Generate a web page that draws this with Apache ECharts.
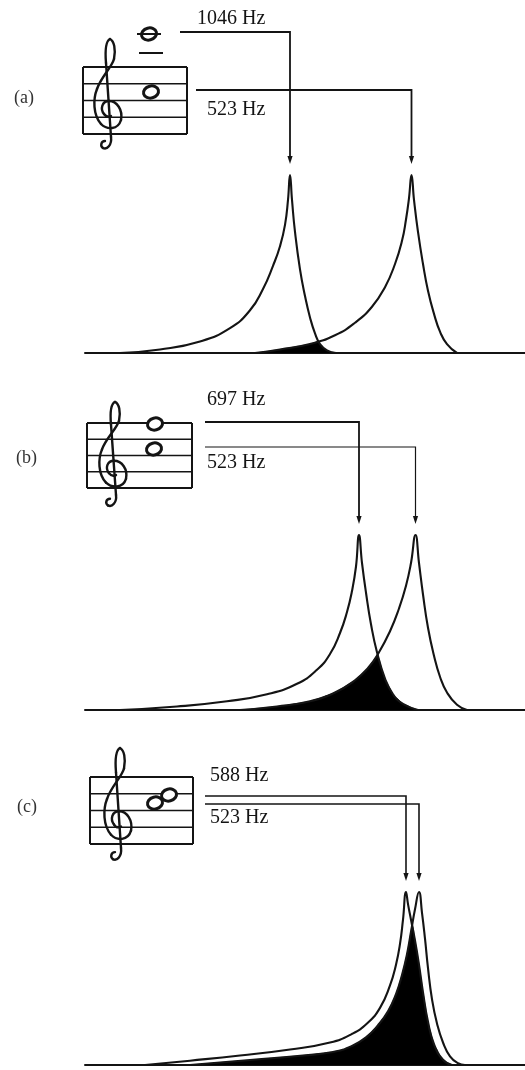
<!DOCTYPE html>
<html>
<head>
<meta charset="utf-8">
<script src="https://cdn.jsdelivr.net/npm/echarts@6/dist/echarts.min.js"></script>
<style>
  html, body { margin: 0; padding: 0; background: #ffffff; }
  #chart { width: 525px; height: 1070px; }
</style>
</head>
<body>
<div id="chart"></div>
<script>
// Resonance curves along the membrane for three pairs of tones.
// Position is in arbitrary units along the x axis, response is relative (peak = 1).

const panelLabels = ['(a)', '(b)', '(c)'];
const toneLabels = [
  ['1046 Hz', '523 Hz'],
  ['697 Hz', '523 Hz'],
  ['588 Hz', '523 Hz']
];

// (a) 1046 Hz and 523 Hz
const posA1046 = [7, 15, 23, 29, 33, 35.6, 37.6, 39, 40, 40.6, 41, 41.4, 42, 43, 44, 45, 46, 47, 48.4, 50.2];
const ampA1046 = [0, 0.02, 0.065, 0.14, 0.24, 0.36, 0.49, 0.6, 0.72, 0.86, 1, 0.86, 0.68, 0.47, 0.32, 0.2, 0.11, 0.05, 0.015, 0];
const posA523 = [34, 39, 45, 50, 54, 57.4, 60, 62, 63.4, 64.2, 64.8, 65.3, 65.8, 66.6, 67.6, 68.6, 69.8, 71, 72.4, 74.4];
const ampA523 = [0, 0.02, 0.05, 0.1, 0.17, 0.26, 0.37, 0.5, 0.63, 0.75, 0.87, 1, 0.86, 0.68, 0.5, 0.35, 0.22, 0.12, 0.05, 0];

// (b) 697 Hz and 523 Hz
const posB697 = [7, 18.4, 28.4, 36.4, 42.4, 46.4, 49, 51, 52.4, 53.4, 54.2, 54.8, 55.4, 56.2, 57.2, 58.4, 60, 61.6, 63.6, 66.6];
const ampB697 = [0, 0.02, 0.05, 0.09, 0.15, 0.23, 0.32, 0.44, 0.56, 0.68, 0.82, 1, 0.84, 0.67, 0.49, 0.33, 0.18, 0.09, 0.035, 0];
const posB523 = [31, 38.4, 45, 50, 54, 56.6, 58.6, 61, 62.8, 64.2, 65.2, 66.1, 66.8, 67.6, 68.6, 69.8, 71, 72.4, 74.4, 76.4];
const ampB523 = [0, 0.02, 0.05, 0.1, 0.17, 0.24, 0.32, 0.45, 0.58, 0.71, 0.84, 1, 0.84, 0.66, 0.47, 0.31, 0.19, 0.1, 0.03, 0];

// (c) 588 Hz and 523 Hz
const posC588 = [12, 21, 31, 41, 49, 53.4, 56.4, 59, 61, 62.2, 63, 63.6, 64.2, 64.6, 65.2, 66, 66.8, 67.6, 68.6, 69.8, 71.6, 73.4];
const ampC588 = [0, 0.025, 0.055, 0.09, 0.13, 0.18, 0.24, 0.33, 0.46, 0.58, 0.7, 0.84, 1, 0.93, 0.84, 0.72, 0.58, 0.42, 0.25, 0.12, 0.03, 0];
const posC523 = [21, 33.6, 43.6, 49.6, 53.4, 56.2, 58.6, 60.6, 62.2, 63.4, 64.4, 65.2, 66, 66.8, 67.4, 68, 68.6, 69.4, 70.4, 71.6, 73, 74.6, 76];
const ampC523 = [0, 0.03, 0.055, 0.075, 0.11, 0.16, 0.23, 0.31, 0.41, 0.52, 0.64, 0.77, 0.9, 1, 0.88, 0.73, 0.56, 0.38, 0.24, 0.13, 0.05, 0.01, 0];

const curves = [
  [[posA1046, ampA1046], [posA523, ampA523]],
  [[posB697, ampB697], [posB523, ampB523]],
  [[posC588, ampC588], [posC523, ampC523]]
];

// Page layout for each panel (pixels): plot area, staff, clef, notes, labels, connector lines.
const layout = [
  {
    grid: { top: 175, height: 178 },
    staff: { x: 83, y: 67, w: 104, h: 67 },
    clef: { x: 92, y: 37, sy: 1.0 },
    notes: [[149, 34], [151, 92]],
    ledgers: [[139, 163, 53]],
    through: [137, 161, 34],
    label: [14, 98],
    texts: [[197, 19], [207, 110]],
    links: [{ x0: 180, y: 32, w: 1.8 }, { x0: 196, y: 90, w: 1.8 }]
  },
  {
    grid: { top: 535, height: 175 },
    staff: { x: 87, y: 423, w: 105, h: 65 },
    clef: { x: 97, y: 400, sy: 0.95 },
    notes: [[155, 424], [154, 449]],
    ledgers: [],
    through: null,
    label: [16, 458],
    texts: [[207, 400], [207, 463]],
    links: [{ x0: 205, y: 422, w: 1.8 }, { x0: 205, y: 447, w: 1.2 }]
  },
  {
    grid: { top: 892, height: 173 },
    staff: { x: 90, y: 777, w: 103, h: 67 },
    clef: { x: 102, y: 746, sy: 1.02 },
    notes: [[155, 803], [169, 795]],
    ledgers: [],
    through: null,
    label: [17, 807],
    texts: [[210, 776], [210, 818]],
    links: [{ x0: 205, y: 796, w: 1.6 }, { x0: 205, y: 804, w: 1.6 }]
  }
];

const INK = '#141414';
const SERIF = '"Liberation Serif", "DejaVu Serif", serif';

function zip(xs, ys) { return xs.map((x, i) => [x, ys[i]]); }

function interp(xs, ys, x) {
  if (x <= xs[0] || x >= xs[xs.length - 1]) return 0;
  for (let i = 1; i < xs.length; i++) {
    if (x <= xs[i]) {
      const t = (x - xs[i - 1]) / (xs[i] - xs[i - 1]);
      return ys[i - 1] + t * (ys[i] - ys[i - 1]);
    }
  }
  return 0;
}

// Region shared by both curves: pointwise minimum, including the crossing points.
function overlap(c1, c2) {
  const lo = Math.max(c1[0][0], c2[0][0]);
  const hi = Math.min(c1[0][c1[0].length - 1], c2[0][c2[0].length - 1]);
  let xs = c1[0].concat(c2[0]).filter(x => x >= lo && x <= hi);
  xs = Array.from(new Set(xs)).sort((a, b) => a - b);
  const out = [];
  for (let i = 0; i < xs.length; i++) {
    const x = xs[i];
    const d = interp(c1[0], c1[1], x) - interp(c2[0], c2[1], x);
    if (i > 0) {
      const xp = xs[i - 1];
      const dp = interp(c1[0], c1[1], xp) - interp(c2[0], c2[1], xp);
      if (dp * d < 0) {
        const xc = xp + (x - xp) * dp / (dp - d);
        out.push([xc, Math.min(interp(c1[0], c1[1], xc), interp(c2[0], c2[1], xc))]);
      }
    }
    out.push([x, Math.min(interp(c1[0], c1[1], x), interp(c2[0], c2[1], x))]);
  }
  return out;
}

function peakOf(c) {
  let k = 0;
  c[1].forEach((v, i) => { if (v > c[1][k]) k = i; });
  return [c[0][k], c[1][k]];
}

const chart = echarts.init(document.getElementById('chart'), null, { renderer: 'canvas' });

const grids = [], xAxes = [], yAxes = [], series = [];
layout.forEach((L, i) => {
  grids.push({ left: 85, right: 0, top: L.grid.top, height: L.grid.height });
  xAxes.push({
    type: 'value', gridIndex: i, min: 0, max: 88,
    axisLine: { show: true, lineStyle: { color: INK, width: 2 } },
    axisTick: { show: false }, axisLabel: { show: false }, splitLine: { show: false }
  });
  yAxes.push({
    type: 'value', gridIndex: i, min: 0, max: 1, show: false, splitLine: { show: false }
  });
  series.push({
    type: 'line', xAxisIndex: i, yAxisIndex: i,
    data: overlap(curves[i][0], curves[i][1]),
    symbol: 'none', smooth: 0.5, clip: false,
    lineStyle: { width: 0.5, color: '#000' },
    areaStyle: { color: '#000', opacity: 1 },
    z: 1, silent: true
  });
  curves[i].forEach((c, j) => {
    series.push({
      type: 'line', name: toneLabels[i][j], xAxisIndex: i, yAxisIndex: i,
      data: zip(c[0], c[1]),
      symbol: 'none', smooth: 0.5, clip: false,
      lineStyle: { width: 2.1, color: INK, join: 'round', cap: 'round' },
      z: 2, silent: true
    });
  });
});

chart.setOption({
  animation: false,
  backgroundColor: '#ffffff',
  grid: grids, xAxis: xAxes, yAxis: yAxes, series: series
});

// Treble clef as cubic segments [x1, y1, cx1, cy1, cx2, cy2, x2, y2] in a 32 x 114 box.
const CLEF_SEGMENTS = [
  [18, 2, 22, 4, 24, 12, 22, 22],
  [22, 22, 20, 30, 9, 40, 5, 52],
  [5, 52, 1, 62, 1, 78, 9, 87],
  [9, 87, 15, 93, 26, 93, 29, 83],
  [29, 83, 31, 73, 25, 64, 17, 64],
  [17, 64, 10, 64, 8, 72, 12, 77],
  [12, 77, 14, 80, 17, 80, 19, 79],
  [18, 2, 14, 4, 13, 14, 14, 26],
  [14, 26, 15.7, 50.7, 17.3, 75.3, 19, 100],
  [19, 100, 20, 108, 15, 113, 11, 111],
  [11, 111, 8, 109, 9, 104, 13, 104]
];

const graphics = [];
function line(x1, y1, x2, y2, w, z) {
  graphics.push({ type: 'line', shape: { x1, y1, x2, y2 }, style: { stroke: INK, lineWidth: w }, z: z || 0, silent: true });
}

layout.forEach((L, i) => {
  const S = L.staff;
  // staff: five lines closed by bar lines at both ends
  for (let k = 0; k < 5; k++) {
    const y = S.y + S.h * k / 4;
    line(S.x, y, S.x + S.w, y, (k === 0 || k === 4) ? 2 : 1.3);
  }
  line(S.x, S.y, S.x, S.y + S.h, 2);
  line(S.x + S.w, S.y, S.x + S.w, S.y + S.h, 2);

  // clef
  const cx = L.clef.x, cy = L.clef.y, sy = L.clef.sy;
  CLEF_SEGMENTS.forEach(s => {
    graphics.push({
      type: 'bezierCurve',
      shape: {
        x1: cx + s[0], y1: cy + s[1] * sy,
        cpx1: cx + s[2], cpy1: cy + s[3] * sy,
        cpx2: cx + s[4], cpy2: cy + s[5] * sy,
        x2: cx + s[6], y2: cy + s[7] * sy
      },
      style: { stroke: INK, fill: 'none', lineWidth: 2.4, lineCap: 'round' },
      z: 5, silent: true
    });
  });

  L.ledgers.forEach(g => line(g[0], g[2], g[1], g[2], 2));

  L.notes.forEach(n => {
    graphics.push({
      type: 'ellipse', x: n[0], y: n[1], rotation: 0.25,
      shape: { cx: 0, cy: 0, rx: 7.6, ry: 6.0 },
      style: { stroke: INK, fill: '#ffffff', lineWidth: 3 },
      z: 10, silent: true
    });
  });
  if (L.through) {
    // ledger line running through the upper note
    line(L.through[0], L.through[2], L.through[1], L.through[2], 2, 11);
  }

  graphics.push({
    type: 'text', x: L.label[0], y: L.label[1],
    style: { text: panelLabels[i], font: '18px ' + SERIF, fill: '#333', verticalAlign: 'middle', align: 'left' },
    silent: true
  });

  L.texts.forEach((t, j) => {
    graphics.push({
      type: 'text', x: t[0], y: t[1],
      style: { text: toneLabels[i][j], font: '20px ' + SERIF, fill: INK, verticalAlign: 'middle', align: 'left' },
      silent: true
    });
  });

  // connector from each tone to the peak of its curve, ending in an arrow
  curves[i].forEach((c, j) => {
    const pk = peakOf(c);
    const p = chart.convertToPixel({ xAxisIndex: i, yAxisIndex: i }, pk);
    const lk = L.links[j];
    const tip = p[1] - 11;
    graphics.push({
      type: 'polyline',
      shape: { points: [[lk.x0, lk.y], [p[0], lk.y], [p[0], tip - 6]] },
      style: { stroke: INK, lineWidth: lk.w, fill: 'none' },
      silent: true
    });
    graphics.push({
      type: 'polygon',
      shape: { points: [[p[0] - 2.6, tip - 8], [p[0] + 2.6, tip - 8], [p[0], tip]] },
      style: { fill: INK },
      silent: true
    });
  });
});

chart.setOption({ graphic: { elements: graphics } });
</script>
</body>
</html>
